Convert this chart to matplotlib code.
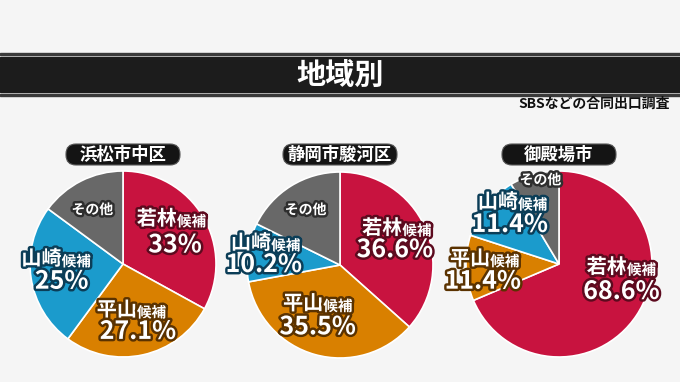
import matplotlib.pyplot as plt
import matplotlib.patheffects as pe
from matplotlib.patches import Rectangle, FancyBboxPatch

plt.rcParams['font.family'] = ['Noto Sans CJK JP', 'DejaVu Sans']

# data
regions = ['浜松市中区', '静岡市駿河区', '御殿場市']
candidates = ['若林', '平山', '山崎', 'その他']
shares = [
    [33.0, 27.1, 25.0, 14.9],
    [36.6, 35.5, 10.2, 17.7],
    [68.6, 11.4, 11.4, 8.6],
]
pct_labels = [
    ['33', '27.1', '25'],
    ['36.6', '35.5', '10.2'],
    ['68.6', '11.4', '11.4'],
]

colors = ['#C8133F', '#D98000', '#1B9BCC', '#686868']
outlines = ['#5C0A1E', '#5A3200', '#0B3D57', '#2E2E2E']

# label anchors (pie data coords): name junction, percent center
name_pos = [
    [(0.58, 0.49), (0.15, -0.49), (-0.66, 0.06), (-0.33, 0.58)],
    [(0.67, 0.40), (-0.18, -0.41), (-0.74, 0.24), (-0.37, 0.59)],
    [(0.73, -0.03), (-0.74, 0.06), (-0.44, 0.67), (-0.20, 0.90)],
]
pct_pos = [
    [(0.56, 0.20), (0.16, -0.73), (-0.66, -0.19)],
    [(0.59, 0.16), (-0.24, -0.67), (-0.82, 0.0)],
    [(0.67, -0.30), (-0.82, -0.19), (-0.53, 0.42)],
]

W, H = 680, 382
centers = [(123, 264), (340, 265), (559, 264)]
R = 93

fig = plt.figure(figsize=(6.8, 3.82), dpi=100)
fig.patch.set_facecolor('#F5F5F5')

# title bar
bg = fig.add_axes([0, 0, 1, 1])
bg.set_xlim(0, W)
bg.set_ylim(H, 0)
bg.axis('off')
bg.add_patch(Rectangle((0, 53), W, 2.2, color='#3A3A3A'))
bg.add_patch(Rectangle((0, 57), W, 35, color='#1C1C1C'))
bg.add_patch(Rectangle((0, 94), W, 2.2, color='#3A3A3A'))
bg.text(W / 2, 75, '地域別', color='white', fontsize=21, fontweight='bold',
        ha='center', va='center')
bg.text(670, 104, 'SBSなどの合同出口調査', color='#111111', fontsize=10,
        fontweight='bold', ha='right', va='center')


def outlined(col):
    return [pe.Stroke(linewidth=3.5, foreground=col), pe.Normal()]


for i, (cx, cy) in enumerate(centers):
    # region label box
    bx = cx - 57
    bg.add_patch(FancyBboxPatch((bx, 144), 114, 21,
                                boxstyle='round,pad=0,rounding_size=10',
                                fc='#141414', ec='#555555', lw=0.8))
    bg.text(cx, 154.5, regions[i], color='white', fontsize=12.5,
            fontweight='bold', ha='center', va='center')

    ax = fig.add_axes([(cx - R) / W, (H - cy - R) / H, 2 * R / W, 2 * R / H])
    ax.pie(shares[i], colors=colors, startangle=90, counterclock=False,
           wedgeprops=dict(edgecolor='white', linewidth=1.2))
    ax.set_xlim(-1, 1)
    ax.set_ylim(-1, 1)
    ax.set_aspect('equal')

    for k, name in enumerate(candidates):
        x, y = name_pos[i][k]
        if name == 'その他':
            ax.text(x, y, name, color='white', fontsize=10, fontweight='bold',
                    ha='center', va='center', path_effects=outlined(outlines[k]))
            continue
        ax.text(x, y, name, color='white', fontsize=14.5, fontweight='bold',
                ha='right', va='center', path_effects=outlined(outlines[k]))
        ax.text(x, y - 0.03, '候補', color='white', fontsize=10.5, fontweight='bold',
                ha='left', va='center', path_effects=outlined(outlines[k]))
        px, py = pct_pos[i][k]
        ax.text(px, py, pct_labels[i][k] + '%', color='white', fontsize=18,
                fontweight='bold', ha='center', va='center',
                path_effects=outlined(outlines[k]))

fig.savefig('out.png', dpi=100, facecolor=fig.get_facecolor())
